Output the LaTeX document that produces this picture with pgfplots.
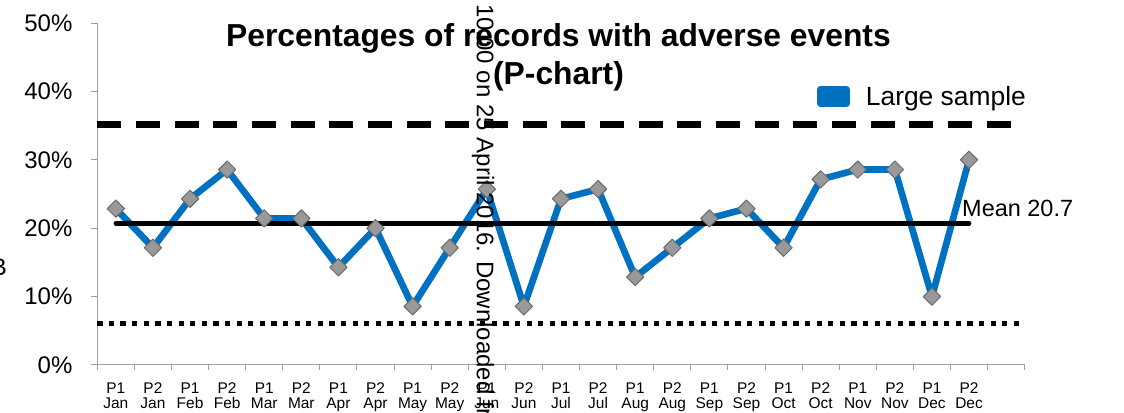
\documentclass[border=0pt]{standalone}
\usepackage{pgfplots}
\pgfplotsset{compat=1.18}
\usepackage{fontspec}
\setmainfont{Liberation Sans}

\definecolor{seriesblue}{HTML}{0070C0}
\definecolor{markgray}{HTML}{999999}
\definecolor{markedge}{HTML}{6B6B6B}
\definecolor{axisgray}{HTML}{A0A0A0}

% Percentage of sampled records with an adverse event, two samples per month
\pgfplotstableread{
x  pct
0  22.86
1  17.14
2  24.29
3  28.57
4  21.43
5  21.43
6  14.29
7  20.00
8  8.57
9  17.14
10 25.71
11 8.57
12 24.29
13 25.71
14 12.86
15 17.14
16 21.43
17 22.86
18 17.14
19 27.14
20 28.57
21 28.57
22 10.00
23 30.00
}\largesample

\begin{document}
\begin{tikzpicture}
\begin{axis}[
  at={(0pt,0pt)}, anchor=south west,
  scale only axis, width=695.55pt, height=256.5pt,
  xmin=-0.5, xmax=24.5, ymin=0, ymax=50,
  axis lines*=left,
  axis line style={axisgray, line width=0.75pt},
  tick align=outside,
  major tick length=5pt,
  minor tick length=3.75pt,
  ytick={0,10,20,30,40,50},
  yticklabels={0\%,10\%,20\%,30\%,40\%,50\%},
  ytick style={axisgray, line width=0.75pt},
  yticklabel style={font=\fontsize{18}{20}\selectfont, inner sep=0pt, anchor=east, xshift=-13.5pt},
  xtick={0,...,23},
  xticklabels={{P1\\Jan},{P2\\Jan},{P1\\Feb},{P2\\Feb},{P1\\Mar},{P2\\Mar},
               {P1\\Apr},{P2\\Apr},{P1\\May},{P2\\May},{P1\\Jun},{P2\\Jun},
               {P1\\Jul},{P2\\Jul},{P1\\Aug},{P2\\Aug},{P1\\Sep},{P2\\Sep},
               {P1\\Oct},{P2\\Oct},{P1\\Nov},{P2\\Nov},{P1\\Dec},{P2\\Dec}},
  xticklabel style={font=\fontsize{11.6}{10.9}\selectfont, align=center, inner sep=0pt, anchor=north, yshift=-8.25pt},
  major x tick style={draw=none},
  minor xtick={-0.5,0.5,...,24.5},
  minor x tick style={draw=axisgray, line width=0.75pt},
  /pgf/number format/assume math mode=true,
  clip=false,
  legend style={draw=none, fill=none, at={(rel axis cs:0.776,0.785)}, anchor=west,
    inner sep=0pt, font=\fontsize{19.8}{22}\selectfont,
    nodes={inner sep=0pt},
    /tikz/every odd column/.append style={column sep=12pt}},
  legend cell align=left,
]
% the sample series
\addplot[seriesblue, line width=5pt, line join=round,
  mark=square*, mark size=4.6pt,
  mark options={rotate=45, fill=markgray, draw=markedge, line width=0.75pt, solid},
  legend image code/.code={\fill[seriesblue] (0pt,-5.25pt) rectangle (19.5pt,5.25pt);}]
  table[x=x, y=pct] {\largesample};
\addlegendentry{Large sample}
% upper control limit
\addplot[black, line width=5.25pt, dash pattern=on 18pt off 11pt, forget plot]
  coordinates {(-0.5,35.2) (24.5,35.2)};
% lower control limit
\addplot[black, line width=4pt, dash pattern=on 4pt off 4.7pt, forget plot]
  coordinates {(-0.5,6.1) (24.5,6.1)};
% centre line
\addplot[black, line width=3.5pt, line cap=round, forget plot]
  coordinates {(0,20.7) (23,20.7)};
\end{axis}

% title, two lines
\node[anchor=base, inner sep=0pt, font=\bfseries\fontsize{23.85}{28}\selectfont]
  at (345.9pt,238.7pt) {Percentages of records with adverse events};
\node[anchor=base, inner sep=0pt, font=\bfseries\fontsize{23.85}{28}\selectfont]
  at (345.9pt,210pt) {(P-chart)};
% centre line label
\node[anchor=base west, inner sep=0pt, font=\fontsize{17.6}{20}\selectfont]
  at (648.5pt,111.2pt) {Mean 20.7};
% left margin remnant
\node[anchor=base east, inner sep=0pt, font=\fontsize{18}{20}\selectfont]
  at (-67.7pt,66.75pt) {B};
% download stamp running down the page
\node[rotate=-90, anchor=base west, inner sep=0pt, font=\fontsize{18}{20}\selectfont]
  at (284.6pt,270.75pt) {10:00 on 25 April 2016. Downloaded from};

\pgfresetboundingbox
\useasboundingbox (-72.975pt,-36pt) rectangle (770.025pt,273.75pt);
\end{tikzpicture}
\end{document}
